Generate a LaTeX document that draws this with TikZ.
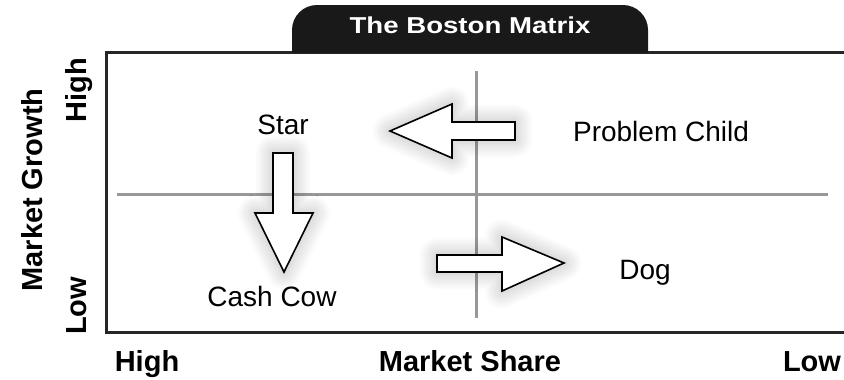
\documentclass[tikz,border=0pt]{standalone}
\usepackage{fontspec}
\setmainfont{Liberation Sans}
\usetikzlibrary{shadows.blur}
\begin{document}
\begin{tikzpicture}[x=1pt,y=-1pt,
  quad/.style={font=\fontsize{28}{30}\selectfont,anchor=base},
  axis/.style={font=\fontsize{29}{32}\selectfont\bfseries},
  grid/.style={draw=gray!85!black!70,line width=3pt},
  frame/.style={draw=black!85,line width=3pt},
  bigarrow/.style={fill=white,draw=black,line width=1.6pt,line join=miter,
    blur shadow={shadow xshift=0pt,shadow yshift=0pt,shadow blur radius=18pt,
      shadow opacity=30,shadow blur steps=16}}]
\useasboundingbox (0,0) rectangle (844,380);
\begin{scope}
\clip (0,0) rectangle (844,380);
% grid lines
\draw[grid] (117,194) -- (828,194);
\draw[grid] (476,71) -- (476,318);
% frame
\draw[frame] (850,52) -- (106,52) -- (106,332) -- (850,332);
% title tab
\fill[black!90,rounded corners=25pt] (292,53) -- (292,5) -- (648,5) -- (648,53);
\fill[black!90] (292,53) rectangle (648,40);
\node[font=\fontsize{23}{26}\selectfont\bfseries,text=white,xscale=1.2,anchor=base] (title) at (470,34) {The Boston Matrix};
% arrows
\path[bigarrow] (390,131) -- (452,104) -- (452,122) -- (515,122) -- (515,140) -- (452,140) -- (452,158) -- cycle;
\path[bigarrow] (273,153) -- (293,153) -- (293,213) -- (313,213) -- (284,272) -- (255,213) -- (273,213) -- cycle;
\path[bigarrow] (437,255) -- (502,255) -- (502,237) -- (564,263) -- (502,291) -- (502,272) -- (437,272) -- cycle;
\end{scope}
% quadrant labels
\node[quad] (star) at (283,134) {Star};
\node[quad] (problem) at (661,141) {Problem Child};
\node[quad] (dog) at (645,279) {Dog};
\node[quad] (cow) at (272,306) {Cash Cow};
% axis labels
\node[axis,rotate=90,anchor=base] (growth) at (42,190) {Market Growth};
\node[axis,rotate=90,anchor=base] (ghigh) at (86,90) {High};
\node[axis,rotate=90,anchor=base] (glow) at (86,306) {Low};
\node[axis,anchor=base] (shigh) at (147,371) {High};
\node[axis,anchor=base] (share) at (470,371) {Market Share};
\node[axis,anchor=base] (slow) at (812,371) {Low};
\end{tikzpicture}
\end{document}
